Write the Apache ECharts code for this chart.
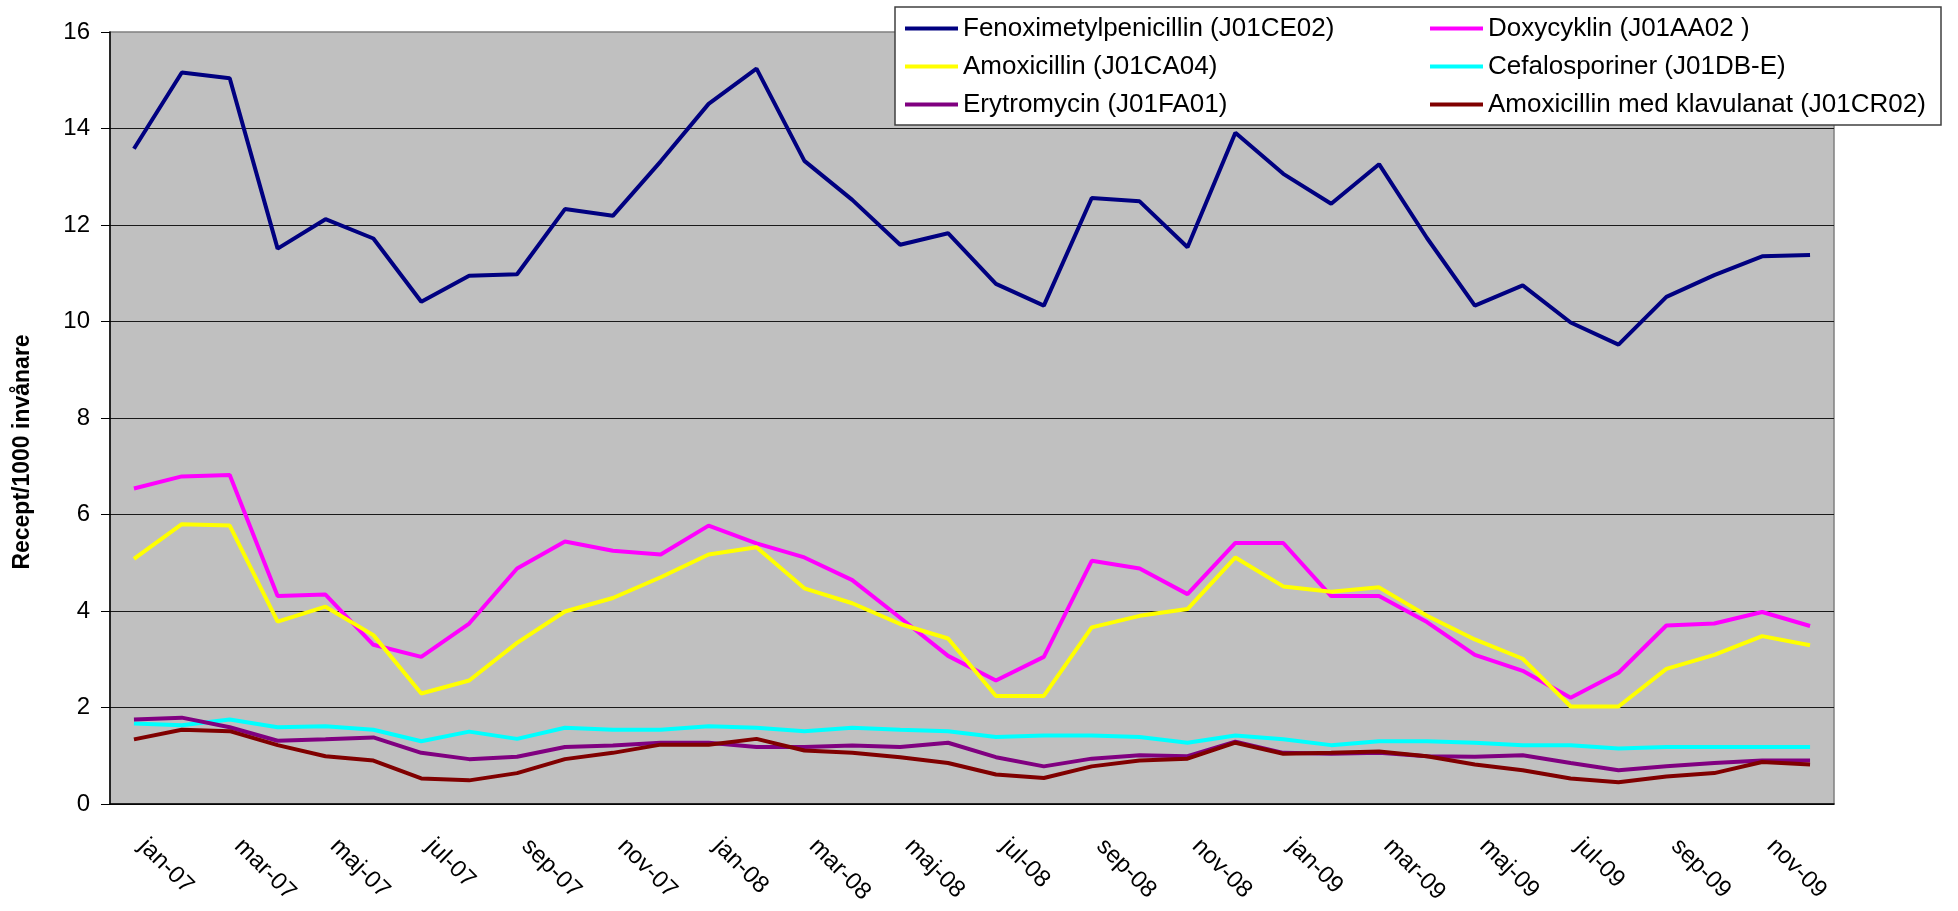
<!DOCTYPE html>
<html>
<head>
<meta charset="utf-8">
<script src="https://cdn.jsdelivr.net/npm/echarts@6/dist/echarts.min.js"></script>
<style>
  html, body { margin: 0; padding: 0; background: #fff; }
  #chart { width: 1958px; height: 911px; }
</style>
</head>
<body>
<div id="chart"></div>
<script>
// månader jan-07 .. dec-09
const months = [
  'jan-07', 'feb-07', 'mar-07', 'apr-07', 'maj-07', 'jun-07', 'jul-07', 'aug-07', 'sep-07', 'okt-07', 'nov-07', 'dec-07',
  'jan-08', 'feb-08', 'mar-08', 'apr-08', 'maj-08', 'jun-08', 'jul-08', 'aug-08', 'sep-08', 'okt-08', 'nov-08', 'dec-08',
  'jan-09', 'feb-09', 'mar-09', 'apr-09', 'maj-09', 'jun-09', 'jul-09', 'aug-09', 'sep-09', 'okt-09', 'nov-09', 'dec-09'
]

const fenoximetylpenicillin = [13.58, 15.16, 15.04, 11.51, 12.12, 11.72, 10.41, 10.95, 10.98, 12.33, 12.19, 13.32,
  14.51, 15.24, 13.33, 12.52, 11.59, 11.83, 10.78, 10.33, 12.56, 12.49, 11.54, 13.91,
  13.06, 12.44, 13.26, 11.73, 10.33, 10.75, 9.98, 9.52, 10.51, 10.96, 11.35, 11.38]

const doxycyklin = [6.54, 6.79, 6.82, 4.31, 4.34, 3.30, 3.05, 3.74, 4.88, 5.44, 5.25, 5.17,
  5.77, 5.40, 5.11, 4.64, 3.86, 3.07, 2.56, 3.05, 5.04, 4.88, 4.35, 5.41,
  5.41, 4.31, 4.31, 3.77, 3.09, 2.76, 2.20, 2.72, 3.70, 3.74, 3.98, 3.69]

const amoxicillin = [5.08, 5.80, 5.77, 3.78, 4.09, 3.50, 2.29, 2.56, 3.34, 3.99, 4.27, 4.70,
  5.17, 5.32, 4.47, 4.16, 3.73, 3.43, 2.24, 2.24, 3.66, 3.90, 4.04, 5.11,
  4.51, 4.40, 4.49, 3.90, 3.41, 3.01, 2.02, 2.02, 2.80, 3.09, 3.48, 3.29]

const cefalosporiner = [1.67, 1.63, 1.75, 1.59, 1.61, 1.54, 1.30, 1.50, 1.35, 1.58, 1.54, 1.54,
  1.61, 1.58, 1.51, 1.58, 1.54, 1.51, 1.39, 1.42, 1.42, 1.39, 1.27, 1.42,
  1.34, 1.22, 1.30, 1.30, 1.27, 1.22, 1.22, 1.15, 1.18, 1.18, 1.18, 1.18]

const erytromycin = [1.75, 1.79, 1.59, 1.31, 1.34, 1.38, 1.06, 0.93, 0.98, 1.18, 1.21, 1.27,
  1.27, 1.18, 1.18, 1.21, 1.18, 1.27, 0.97, 0.78, 0.94, 1.01, 0.99, 1.29,
  1.06, 1.04, 1.06, 0.99, 0.98, 1.01, 0.85, 0.70, 0.78, 0.85, 0.90, 0.90]

const amoxKlavulanat = [1.34, 1.54, 1.51, 1.22, 0.99, 0.90, 0.53, 0.49, 0.64, 0.93, 1.06, 1.23,
  1.23, 1.35, 1.11, 1.06, 0.97, 0.85, 0.61, 0.54, 0.78, 0.90, 0.94, 1.27,
  1.04, 1.06, 1.09, 0.99, 0.82, 0.70, 0.53, 0.45, 0.57, 0.64, 0.87, 0.82]

const seriesNames = [
  'Fenoximetylpenicillin (J01CE02)',
  'Doxycyklin (J01AA02 )',
  'Amoxicillin (J01CA04)',
  'Cefalosporiner (J01DB-E)',
  'Erytromycin (J01FA01)',
  'Amoxicillin med klavulanat (J01CR02)'
]
const seriesColors = ['#000080', '#FF00FF', '#FFFF00', '#00FFFF', '#800080', '#800000']
const seriesData = [fenoximetylpenicillin, doxycyklin, amoxicillin, cefalosporiner, erytromycin, amoxKlavulanat]

const yTicks = { min: 0, max: 16, interval: 2 }
const yTitle = 'Recept/1000 invånare'

const font = '"Liberation Sans", Arial, sans-serif'

const chart = echarts.init(document.getElementById('chart'), null, { renderer: 'canvas' })

// två legendkolumner i samma ruta
const legendCommon = {
  orient: 'vertical',
  top: 15,
  padding: 0,
  icon: 'rect',
  itemWidth: 53,
  itemHeight: 4,
  itemGap: 11,
  textStyle: { fontFamily: font, fontSize: 26, color: '#000', lineHeight: 27 }
}

const option = {
  animation: false,
  backgroundColor: '#fff',
  grid: {
    left: 110,
    right: 124,
    top: 32,
    bottom: 107,
    show: true,
    backgroundColor: '#C0C0C0',
    borderColor: '#808080',
    borderWidth: 1.5
  },
  legend: [
    Object.assign({ left: 905, data: [seriesNames[0], seriesNames[2], seriesNames[4]] }, legendCommon),
    Object.assign({ left: 1430, data: [seriesNames[1], seriesNames[3], seriesNames[5]] }, legendCommon)
  ],
  graphic: [
    {
      type: 'rect',
      z: 3,
      shape: { x: 895, y: 7, width: 1046, height: 118 },
      style: { fill: '#fff', stroke: '#404040', lineWidth: 1.5 }
    },
    {
      type: 'text',
      x: 23,
      y: 452,
      rotation: Math.PI / 2,
      style: {
        text: yTitle,
        fontFamily: font,
        fontSize: 23,
        fontWeight: 'bold',
        fill: '#000',
        align: 'center',
        verticalAlign: 'middle'
      }
    }
  ],
  xAxis: {
    type: 'category',
    data: months,
    boundaryGap: true,
    axisLine: { lineStyle: { color: '#000', width: 1.5 } },
    axisTick: { interval: 1, length: 8, lineStyle: { color: '#000' } },
    axisLabel: {
      interval: 1,
      rotate: -45,
      margin: 30,
      padding: [0, 0, 0, 12],
      fontFamily: font,
      fontSize: 24,
      color: '#000'
    },
    splitLine: { show: false }
  },
  yAxis: {
    type: 'value',
    min: yTicks.min,
    max: yTicks.max,
    interval: yTicks.interval,
    axisLine: { show: true, lineStyle: { color: '#000', width: 1.5 } },
    axisTick: { show: true, length: 9, lineStyle: { color: '#000' } },
    axisLabel: { margin: 20, fontFamily: font, fontSize: 24, color: '#000' },
    splitLine: { showMaxLine: false, lineStyle: { color: '#1a1a1a', width: 1 } }
  },
  series: seriesNames.map((name, i) => ({
    name: name,
    type: 'line',
    data: seriesData[i],
    symbol: 'none',
    color: seriesColors[i],
    lineStyle: { width: 4, color: seriesColors[i] }
  }))
}

chart.setOption(option)
</script>
</body>
</html>
